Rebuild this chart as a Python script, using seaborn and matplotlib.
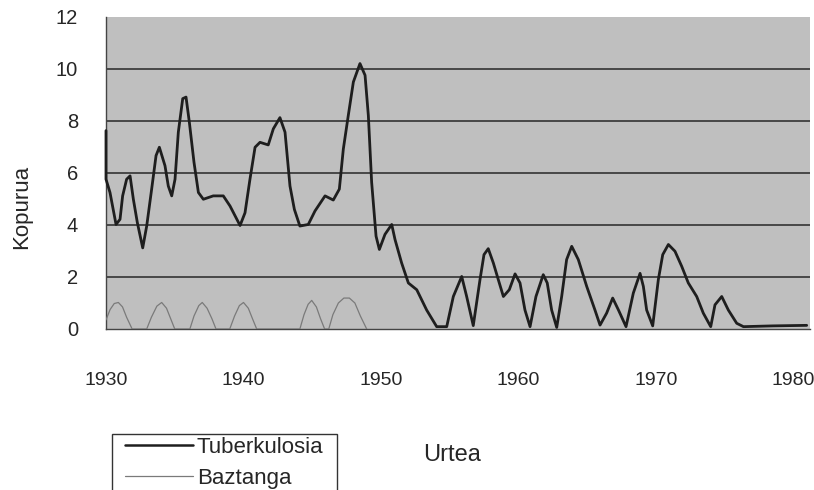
import seaborn as sns
import pandas as pd
import matplotlib.pyplot as plt
from matplotlib.lines import Line2D
from matplotlib.patches import Rectangle

# values
tb_years = [1930.0, 1930.0, 1930.29, 1930.73, 1931.02, 1931.21, 1931.5, 1931.75, 1931.99, 1932.28,
            1932.67, 1932.96, 1933.32, 1933.64, 1933.88, 1934.29, 1934.53, 1934.78, 1935.02, 1935.26,
            1935.58, 1935.82, 1936.06, 1936.4, 1936.72, 1937.08, 1937.8, 1938.53, 1939.02, 1939.75,
            1940.11, 1940.47, 1940.84, 1941.2, 1941.8, 1942.17, 1942.65, 1943.02, 1943.38, 1943.7,
            1944.1, 1944.71, 1945.2, 1945.93, 1946.53, 1946.97, 1947.26, 1947.62, 1947.99, 1948.47,
            1948.84, 1949.08, 1949.32, 1949.64, 1949.88, 1950.29, 1950.78, 1951.02, 1951.5, 1951.99,
            1952.6, 1953.32, 1954.05, 1954.78, 1955.26, 1955.87, 1956.23, 1956.71, 1957.2, 1957.49,
            1957.8, 1958.17, 1958.53, 1958.9, 1959.33, 1959.75, 1960.11, 1960.47, 1960.84, 1961.27,
            1961.8, 1962.09, 1962.41, 1962.78, 1963.14, 1963.5, 1963.87, 1964.35, 1964.96, 1965.56,
            1965.93, 1966.41, 1966.85, 1967.27, 1967.82, 1968.35, 1968.84, 1969.08, 1969.32, 1969.76,
            1970.17, 1970.49, 1970.9, 1971.38, 1971.87, 1972.35, 1972.96, 1973.44, 1973.98, 1974.29,
            1974.78, 1975.26, 1975.87, 1976.36, 1978.5, 1980.96]
tb_values = [7.63, 5.76, 5.25, 4.02, 4.22, 5.12, 5.76, 5.89, 4.99, 4.09,
             3.12, 3.96, 5.38, 6.67, 6.99, 6.28, 5.5, 5.12, 5.76, 7.57,
             8.86, 8.92, 7.96, 6.41, 5.25, 4.99, 5.12, 5.12, 4.73, 3.98,
             4.47, 5.76, 6.99, 7.18, 7.08, 7.7, 8.13, 7.57, 5.5, 4.6,
             3.96, 4.02, 4.54, 5.12, 4.96, 5.38, 6.92, 8.21, 9.5, 10.21,
             9.76, 8.21, 5.64, 3.57, 3.06, 3.64, 4.02, 3.44, 2.54, 1.77,
             1.51, 0.73, 0.09, 0.09, 1.25, 2.02, 1.25, 0.13, 1.9, 2.86,
             3.09, 2.54, 1.9, 1.25, 1.51, 2.12, 1.77, 0.73, 0.09, 1.25,
             2.09, 1.77, 0.73, 0.06, 1.25, 2.67, 3.18, 2.67, 1.64, 0.73,
             0.15, 0.61, 1.19, 0.73, 0.09, 1.38, 2.14, 1.64, 0.73, 0.12,
             1.9, 2.86, 3.25, 2.99, 2.41, 1.77, 1.25, 0.61, 0.09, 0.93,
             1.25, 0.73, 0.22, 0.09, 0.12, 0.14]

bz_years = [1930.0, 1930.3, 1930.6, 1930.9, 1931.2, 1931.5, 1931.9,
            1932.96, 1933.3, 1933.7, 1934.05, 1934.4, 1934.7, 1935.0,
            1936.1, 1936.4, 1936.75, 1937.0, 1937.35, 1937.7, 1938.0,
            1939.0, 1939.35, 1939.7, 1940.0, 1940.35, 1940.65, 1940.96,
            1944.1, 1944.4, 1944.7, 1944.96, 1945.3, 1945.6, 1945.9,
            1946.2, 1946.5, 1946.9, 1947.3, 1947.7, 1948.1, 1948.5, 1948.96]
bz_values = [0.35, 0.75, 0.98, 1.02, 0.85, 0.45, 0.0,
             0.0, 0.45, 0.88, 1.02, 0.8, 0.4, 0.0,
             0.0, 0.5, 0.9, 1.02, 0.8, 0.4, 0.0,
             0.0, 0.5, 0.9, 1.02, 0.8, 0.4, 0.0,
             0.0, 0.55, 0.95, 1.1, 0.85, 0.4, 0.0,
             0.0, 0.55, 1.0, 1.19, 1.19, 1.0, 0.5, 0.0]

series = ['Tuberkulosia', 'Baztanga']
y_ticks = [0, 2, 4, 6, 8, 10, 12]
x_ticks = [1930, 1940, 1950, 1960, 1970, 1980]

tb = pd.DataFrame({'Urtea': tb_years, 'Kopurua': tb_values})
bz = pd.DataFrame({'Urtea': bz_years, 'Kopurua': bz_values})

sns.set_style('white')
plt.rcParams['font.family'] = ['Liberation Sans', 'DejaVu Sans']
ink = '#262626'

fig = plt.figure(figsize=(8.14, 4.9), dpi=100)
ax = fig.add_axes([106/814, 1-329/490, (810-106)/814, (329-17)/490])
ax.set_facecolor('#bfbfbf')

sns.lineplot(data=bz, x='Urtea', y='Kopurua', ax=ax, color='#7a7a7a', linewidth=0.9,
             estimator=None, sort=False, zorder=3)
sns.lineplot(data=tb, x='Urtea', y='Kopurua', ax=ax, color='#1e1e1e', linewidth=2.0,
             estimator=None, sort=False, zorder=4, solid_joinstyle='round', clip_on=False)

ax.set_xlim(1930, 1930 + (810-106)/13.75)
ax.set_ylim(0, 12)
ax.set_xticks(x_ticks)
ax.set_yticks(y_ticks)
ax.yaxis.grid(True, color='#333333', linewidth=1.2)
ax.get_ygridlines()[-1].set_visible(False)
ax.get_ygridlines()[0].set_visible(False)
for s in ['top', 'right']:
    ax.spines[s].set_visible(False)
for s in ['left', 'bottom']:
    ax.spines[s].set_color('#444444')
    ax.spines[s].set_linewidth(1.0)
ax.tick_params(axis='x', direction='out', length=5, width=0.8, color='#444444',
               pad=26, labelsize=14, labelcolor=ink)
ax.tick_params(axis='y', direction='out', length=6, width=0.8, color='#444444',
               pad=14, labelsize=14.5, labelcolor=ink)
ax.set_xlabel('')
ax.set_ylabel('')

fig.text(22/814, 1-207/490, 'Kopurua', rotation=90, ha='center', va='center',
         fontsize=16, color=ink)
fig.text(452/814, 1-455/490, 'Urtea', ha='center', va='center', fontsize=17, color=ink)

# legend box runs off the bottom edge, as in the scan
fig.patches.append(Rectangle((112/814, -10/490), (337-112)/814, (490-434+10)/490,
                             transform=fig.transFigure, facecolor='white',
                             edgecolor='#333333', linewidth=1.0, zorder=1))
handles = [Line2D([], [], color='#1e1e1e', linewidth=1.8),
           Line2D([], [], color='#7a7a7a', linewidth=0.9)]
leg = fig.legend(handles, series, loc='upper left', bbox_to_anchor=(125/814, 1-437/490),
                 frameon=False, borderaxespad=0, borderpad=0, handlelength=3.05,
                 handletextpad=0.18, labelspacing=0.45, fontsize=16)
for t in leg.get_texts():
    t.set_color(ink)

fig.savefig('out.png', dpi=100)
